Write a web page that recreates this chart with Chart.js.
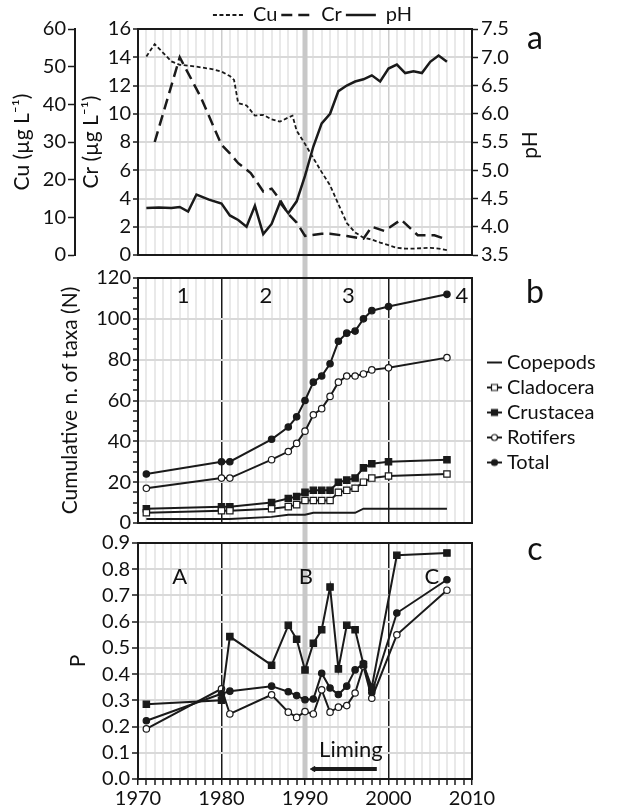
<!DOCTYPE html>
<html>
<head>
<meta charset="utf-8">
<title>Cu, Cr, pH e taxa</title>
<script src="https://cdn.jsdelivr.net/npm/chart.js@4.4.1/dist/chart.umd.min.js"></script>
<style>
  body { margin: 0; background: #fff; }
  #fig { position: relative; width: 625px; height: 811px; }
  #fig canvas { position: absolute; left: 0; }
</style>
</head>
<body>
<div id="fig">
  <canvas id="chartA" width="625" height="265" style="top:0px"></canvas>
  <canvas id="chartB" width="625" height="270" style="top:265px"></canvas>
  <canvas id="chartC" width="625" height="276" style="top:535px"></canvas>
</div>
<script>
// painel a: Cu, Cr (ug/L) e pH
const cuYears = [1971, 1972, 1974, 1975, 1977, 1979, 1980, 1981, 1981.5, 1982, 1983, 1984, 1985, 1986, 1987, 1988, 1988.5, 1989, 1990, 1991, 1992, 1993, 1994, 1995, 1996, 1997, 1998, 1999, 2000, 2001, 2002, 2003, 2004, 2005, 2006, 2007]
const cuValues = [52.7, 56, 51.4, 50.5, 50, 49.3, 48.7, 47.5, 46.5, 40.3, 39.7, 37, 37.2, 36, 35.4, 36.5, 37, 33, 29.5, 25.7, 22, 18.5, 13.5, 8.5, 6, 4.6, 4.1, 3.3, 2.6, 1.9, 1.7, 1.7, 1.8, 1.9, 1.7, 1.3]

const crYears = [1972, 1975, 1977.5, 1980, 1981, 1982, 1983.5, 1985, 1986, 1987, 1988, 1989, 1990, 1992, 1993, 1995, 1997, 1998, 1999.5, 2001.5, 2003.5, 2005.5, 2006.5]
const crValues = [8.0, 14.0, 11.2, 7.8, 7.2, 6.5, 5.8, 4.5, 4.7, 3.9, 2.9, 2.3, 1.35, 1.5, 1.5, 1.35, 1.15, 2.0, 1.7, 2.5, 1.4, 1.4, 1.2]

const phYears = [1971, 1972.5, 1974, 1975, 1976, 1977, 1978.5, 1980, 1981, 1982, 1983, 1984, 1985, 1986, 1987, 1988, 1989, 1990, 1991, 1992, 1993, 1994, 1995, 1996, 1997, 1998, 1999, 2000, 2001, 2002, 2003, 2004, 2005, 2006, 2007]
const phValues = [4.33, 4.34, 4.33, 4.35, 4.27, 4.57, 4.48, 4.41, 4.2, 4.12, 4.0, 4.37, 3.87, 4.05, 4.43, 4.24, 4.45, 4.9, 5.42, 5.83, 6.0, 6.4, 6.5, 6.57, 6.61, 6.68, 6.57, 6.8, 6.87, 6.72, 6.75, 6.72, 6.92, 7.03, 6.92]

// painel b: numero acumulado de taxa
const bYears = [1971, 1980, 1981, 1986, 1988, 1989, 1990, 1991, 1992, 1993, 1994, 1995, 1996, 1997, 1998, 2000, 2007]
const copepods = [2, 2, 2, 3, 4, 4, 4, 5, 5, 5, 5, 5, 5, 7, 7, 7, 7]
const cladocera = [5, 6, 6, 7, 8, 9, 11, 11, 11, 11, 15, 16, 17, 20, 22, 23, 24]
const crustacea = [7, 8, 8, 10, 12, 13, 15, 16, 16, 16, 20, 21, 22, 27, 29, 30, 31]
const rotifers = [17, 22, 22, 31, 35, 39, 45, 53, 56, 62, 69, 72, 72, 73, 75, 76, 81]
const total = [24, 30, 30, 41, 47, 52, 60, 69, 72, 78, 89, 93, 94, 100, 104, 106, 112]

// painel c: P
const pYears = [1971, 1980, 1981, 1986, 1988, 1989, 1990, 1991, 1992, 1993, 1994, 1995, 1996, 1997, 1998, 2001, 2007]
const pCrustacea = [0.285, 0.30, 0.543, 0.434, 0.586, 0.533, 0.416, 0.518, 0.569, 0.732, 0.42, 0.586, 0.569, 0.437, 0.35, 0.853, 0.862]
const pTotal = [0.222, 0.325, 0.335, 0.354, 0.333, 0.318, 0.302, 0.305, 0.403, 0.347, 0.322, 0.354, 0.416, 0.44, 0.33, 0.633, 0.76]
const pRotifers = [0.191, 0.344, 0.248, 0.321, 0.255, 0.235, 0.257, 0.248, 0.34, 0.255, 0.274, 0.28, 0.328, 0.43, 0.308, 0.55, 0.72]

const limingYears = [1991, 1998.6]
const limingLevel = 0.038
const bandYear = 1990
const yearLabels = [1970, 1980, 1990, 2000, 2010]

const ink = '#1a1a1a'
const fontName = "Lato, 'Open Sans', sans-serif"

Chart.defaults.font.family = fontName
Chart.defaults.font.size = 20
Chart.defaults.color = '#111'

function pts(xs, ys) {
	return xs.map(function (x, i) { return { x: x, y: ys[i] } })
}

function fixWidth(w) {
	return function (s) { s.width = w; s.paddingTop = 0; s.paddingBottom = 0 }
}

function yearGrid(strong) {
	return {
		color: function (c) { return c.tick && c.tick.value % 10 === 0 ? strong : '#e9e9e9' },
		lineWidth: function (c) { return c.tick && c.tick.value % 10 === 0 ? 1.5 : 2 },
		drawTicks: false
	}
}

function hiddenYears(strong) {
	return {
		type: 'linear', min: 1970, max: 2010,
		ticks: { display: false, stepSize: 1, autoSkip: false },
		grid: yearGrid(strong),
		border: { display: false },
		afterFit: function (s) { s.height = 0; s.paddingLeft = 0; s.paddingRight = 0 }
	}
}

// legenda com tamanho fixo, para alinhar as areas dos graficos
function legendBox(w, h) {
	return {
		id: 'legendBox',
		afterInit: function (chart) {
			const lg = chart.legend
			const fit = lg.fit
			lg.fit = function () {
				fit.call(this)
				if (w) this.width = w
				if (h) this.height = h
			}
		}
	}
}

function decor(o) {
	return {
		id: 'decor',
		beforeDatasetsDraw: function (chart) {
			const ctx = chart.ctx
			const a = chart.chartArea
			const bx = chart.scales.x.getPixelForValue(bandYear)
			const y0 = o.bandUp ? 0 : a.top
			const y1 = o.bandDown ? chart.height : a.bottom
			ctx.save()
			ctx.fillStyle = '#c8c8c8'
			ctx.fillRect(bx - 2.5, y0, 5, y1 - y0)
			ctx.lineWidth = 2
			ctx.strokeStyle = ink
			ctx.strokeRect(a.left, a.top, a.right - a.left, a.bottom - a.top)
			ctx.restore()
		},
		afterDatasetsDraw: function (chart) {
			const ctx = chart.ctx
			const a = chart.chartArea
			const notes = o.notes || []
			ctx.save()
			ctx.fillStyle = '#111'
			ctx.textAlign = 'center'
			ctx.textBaseline = 'middle'
			notes.forEach(function (n) {
				ctx.font = n.size + 'px ' + fontName
				ctx.fillText(n.text, chart.scales.x.getPixelForValue(n.x), chart.scales[o.yId].getPixelForValue(n.y))
			})
			ctx.font = '32px ' + fontName
			ctx.fillText(o.letter, a.right + 63, a.top + o.letterDy)
			if (o.after) o.after(ctx, chart)
			ctx.restore()
		}
	}
}

function lineLegend(chart) {
	return chart.data.datasets.map(function (ds, i) {
		return {
			text: ds.label, fillStyle: ds.borderColor, strokeStyle: ds.borderColor,
			lineWidth: ds.borderWidth, lineDash: ds.borderDash || [], pointStyle: 'line',
			rotation: 0, datasetIndex: i, fontColor: '#111'
		}
	})
}

// desenhinho da legenda do painel b: linha com marcador
function markIcon(style, filled) {
	const c = document.createElement('canvas')
	c.width = 34
	c.height = 12
	const g = c.getContext('2d')
	g.strokeStyle = ink
	g.lineWidth = 2
	g.beginPath()
	g.moveTo(17, 6)
	g.lineTo(32, 6)
	g.stroke()
	g.fillStyle = filled ? ink : '#fff'
	g.lineWidth = 1.2
	g.beginPath()
	if (style === 'rect') g.rect(21.5, 3, 6, 6)
	if (style === 'circle') g.arc(24.5, 6, 3, 0, Math.PI * 2)
	if (style) { g.fill(); g.stroke() }
	return c
}

function series(label, xs, ys, style, filled, yId) {
	return {
		label: label, data: pts(xs, ys), yAxisID: yId,
		borderColor: ink, borderWidth: 2, tension: 0,
		pointStyle: style || 'circle', pointRadius: style ? (style === 'rect' ? 4.5 : 3.2) : 0,
		pointBackgroundColor: filled ? ink : '#fff', pointBorderColor: ink, pointBorderWidth: 1.2,
		icon: markIcon(style, filled)
	}
}

window.onload = function () {
	// painel a
	new Chart(document.getElementById('chartA'), {
		type: 'line',
		data: {
			datasets: [
				{ label: 'Cu', data: pts(cuYears, cuValues), yAxisID: 'yCu', borderColor: ink, borderWidth: 1.8, borderDash: [4, 2.5], pointRadius: 0 },
				{ label: 'Cr', data: pts(crYears, crValues), yAxisID: 'yCr', borderColor: ink, borderWidth: 2.5, borderDash: [11, 6], pointRadius: 0 },
				{ label: 'pH', data: pts(phYears, phValues), yAxisID: 'yPh', borderColor: ink, borderWidth: 2.5, pointRadius: 0 }
			]
		},
		options: {
			responsive: false, animation: false, events: [],
			layout: { padding: { top: 1, bottom: 10, left: 0, right: 0 } },
			plugins: {
				legend: { position: 'top', labels: { usePointStyle: true, pointStyleWidth: 30, padding: 4, generateLabels: lineLegend } },
				tooltip: { enabled: false }
			},
			scales: {
				x: hiddenYears('#cdcdcd'),
				yCr: {
					position: 'left', weight: 0, min: 0, max: 16,
					ticks: { stepSize: 2, padding: 2, autoSkip: false },
					grid: { color: '#d9d9d9', lineWidth: 2, tickColor: ink, tickWidth: 1.5, tickLength: 5 },
					border: { color: ink, width: 2 },
					title: { display: true, text: 'Cr (µg L⁻¹)', font: { size: 21 }, padding: { top: 4, bottom: 0 } },
					afterFit: fixWidth(63)
				},
				yCu: {
					position: 'left', weight: 1, min: 0, max: 60,
					ticks: { stepSize: 10, padding: 2, autoSkip: false },
					grid: { drawOnChartArea: false, tickColor: ink, tickWidth: 1.5, tickLength: 7 },
					border: { color: ink, width: 2 },
					title: { display: true, text: 'Cu (µg L⁻¹)', font: { size: 21 }, padding: { top: 10, bottom: 0 } },
					afterFit: fixWidth(75)
				},
				yPh: {
					position: 'right', min: 3.5, max: 7.5,
					ticks: { stepSize: 0.5, padding: 3, autoSkip: false, callback: function (v) { return v.toFixed(1) } },
					grid: { drawOnChartArea: false, tickColor: ink, tickWidth: 1.5, tickLength: 6 },
					border: { color: ink, width: 2 },
					afterFit: fixWidth(153)
				}
			}
		},
		plugins: [legendBox(0, 28), decor({
			yId: 'yCr', letter: 'a', letterDy: 10, bandDown: true,
			after: function (ctx, chart) {
				ctx.translate(chart.chartArea.right + 58, (chart.chartArea.top + chart.chartArea.bottom) / 2 + 3)
				ctx.rotate(-Math.PI / 2)
				ctx.font = '21px ' + fontName
				ctx.fillText('pH', 0, 0)
			}
		})]
	})

	// painel b
	const bSets = [
		series('Copepods', bYears, copepods, null, false, 'y'),
		series('Cladocera', bYears, cladocera, 'rect', false, 'y'),
		series('Crustacea', bYears, crustacea, 'rect', true, 'y'),
		series('Rotifers', bYears, rotifers, 'circle', false, 'y'),
		series('Total', bYears, total, 'circle', true, 'y')
	]
	new Chart(document.getElementById('chartB'), {
		type: 'line',
		data: { datasets: bSets },
		options: {
			responsive: false, animation: false, events: [],
			layout: { padding: { top: 13, bottom: 12, left: 0, right: 0 } },
			plugins: {
				legend: {
					position: 'right',
					title: { display: true, text: ' ', padding: 0 },
					labels: {
						usePointStyle: true, pointStyleWidth: 20, padding: 5,
						generateLabels: function (chart) {
							return chart.data.datasets.map(function (ds, i) {
								return { text: ds.label, pointStyle: ds.icon, rotation: 0, lineWidth: 1, strokeStyle: ink, fillStyle: ink, datasetIndex: i, fontColor: '#111' }
							})
						}
					}
				},
				tooltip: { enabled: false }
			},
			scales: {
				x: hiddenYears(ink),
				y: {
					min: 0, max: 120,
					ticks: { stepSize: 5, autoSkip: false, padding: 2, callback: function (v) { return v % 20 === 0 ? v : '' } },
					grid: {
						color: function (c) { return c.tick && c.tick.value % 20 === 0 ? '#d9d9d9' : 'rgba(0,0,0,0)' },
						lineWidth: 2, tickColor: ink, tickWidth: 1.5, tickLength: 5
					},
					border: { color: ink, width: 2 },
					title: { display: true, text: 'Cumulative n. of taxa (N)', font: { size: 21 }, padding: { top: 58, bottom: 0 } },
					afterFit: fixWidth(138)
				}
			}
		},
		plugins: [legendBox(153, 0), decor({
			yId: 'y', letter: 'b', letterDy: 15, bandUp: true, bandDown: true,
			notes: [
				{ text: '1', x: 1975.4, y: 111, size: 22 },
				{ text: '2', x: 1985.3, y: 111, size: 22 },
				{ text: '3', x: 1995.2, y: 111, size: 22 },
				{ text: '4', x: 2008.8, y: 111, size: 22 }
			]
		})]
	})

	// painel c
	new Chart(document.getElementById('chartC'), {
		type: 'line',
		data: {
			datasets: [
				series('Crustacea', pYears, pCrustacea, 'rect', true, 'y'),
				series('Total', pYears, pTotal, 'circle', true, 'y'),
				series('Rotifers', pYears, pRotifers, 'circle', false, 'y'),
				{
					label: 'Liming', data: pts(limingYears, [limingLevel, limingLevel]),
					borderColor: ink, borderWidth: 4, pointStyle: 'triangle', pointRotation: -90,
					pointRadius: [3, 0], pointBackgroundColor: ink, pointBorderColor: ink, pointBorderWidth: 1
				}
			]
		},
		options: {
			responsive: false, animation: false, events: [],
			layout: { padding: { top: 8, bottom: 0, left: 0, right: 153 } },
			plugins: { legend: { display: false }, tooltip: { enabled: false } },
			scales: {
				x: {
					type: 'linear', min: 1970, max: 2010,
					ticks: {
						stepSize: 1, autoSkip: false, maxRotation: 0, padding: 2,
						callback: function (v) { return yearLabels.indexOf(v) >= 0 ? String(v) : '' }
					},
					grid: Object.assign(yearGrid(ink), { drawTicks: true, tickLength: 6, tickColor: ink, tickWidth: 1.5 }),
					border: { color: ink, width: 2 },
					afterFit: function (s) { s.height = 32; s.paddingLeft = 0; s.paddingRight = 0 }
				},
				y: {
					min: 0, max: 0.9,
					ticks: { stepSize: 0.1, autoSkip: false, padding: 2, callback: function (v) { return v.toFixed(1) } },
					grid: { color: '#d9d9d9', lineWidth: 2, tickColor: ink, tickWidth: 1.5, tickLength: 6 },
					border: { color: ink, width: 2 },
					title: { display: true, text: 'P', font: { size: 21 }, padding: { top: 66, bottom: 0 } },
					afterFit: fixWidth(138)
				}
			}
		},
		plugins: [decor({
			yId: 'y', letter: 'c', letterDy: 7, bandUp: true,
			notes: [
				{ text: 'A', x: 1975, y: 0.77, size: 22 },
				{ text: 'B', x: 1990.1, y: 0.77, size: 22 },
				{ text: 'C', x: 2005.2, y: 0.77, size: 22 },
				{ text: 'Liming', x: 1995.5, y: 0.11, size: 22 }
			]
		})]
	})
}
</script>
</body>
</html>
